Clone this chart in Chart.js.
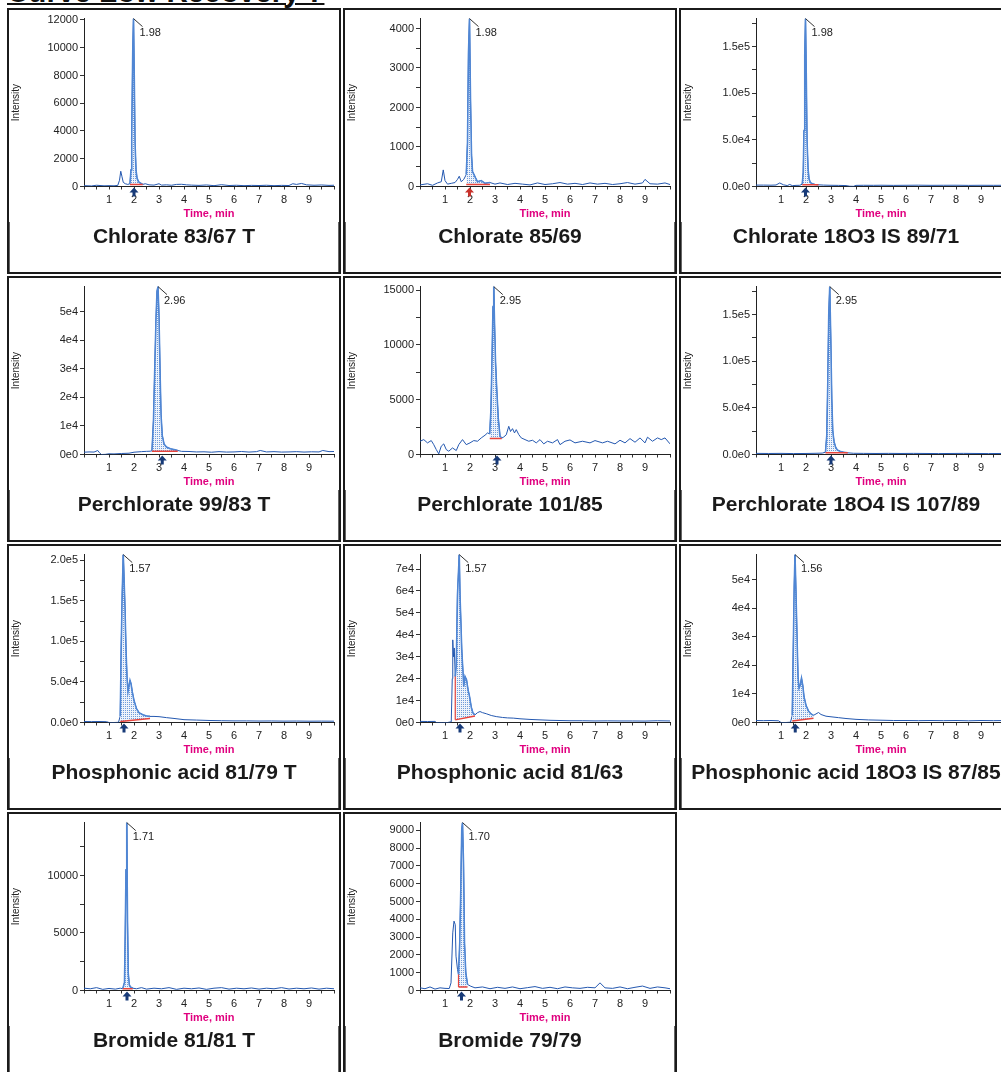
<!DOCTYPE html>
<html>
<head>
<meta charset="utf-8">
<script src="https://cdn.jsdelivr.net/npm/chart.js@4.4.1/dist/chart.umd.min.js"></script>
<style>
body{margin:0;width:1001px;height:1072px;overflow:hidden;position:relative;background:#fff;font-family:"Liberation Sans",Arial,sans-serif}
#title{position:absolute;left:7px;top:-23px;font-size:29.6px;font-weight:bold;line-height:29px;text-decoration:underline;text-decoration-thickness:2px;text-underline-offset:1px;white-space:nowrap;color:#111}
.panel{position:absolute;width:330px;height:262px;border:2px solid #1b1b1b;background:#fff}
.panel canvas{position:absolute;left:0;top:0}
.cap{position:absolute;left:0;right:0;top:212px;bottom:0;border-left:1px solid #666;border-right:1px solid #666;text-align:center;font-weight:bold;font-size:21px;line-height:28px;color:#1a1a1a;white-space:nowrap}
</style>
</head>
<body>
<div id="title">Curve Low Recovery 7</div>
<script>
// panel captions and peak annotations
var captions = ['Chlorate 83/67 T', 'Chlorate 85/69', 'Chlorate 18O3 IS 89/71',
    'Perchlorate 99/83 T', 'Perchlorate 101/85', 'Perchlorate 18O4 IS 107/89',
    'Phosphonic acid 81/79 T', 'Phosphonic acid 81/63', 'Phosphonic acid 18O3 IS 87/85',
    'Bromide 81/81 T', 'Bromide 79/79'];
var apexLabels = ['1.98', '1.98', '1.98', '2.96', '2.95', '2.95', '1.57', '1.57', '1.56', '1.71', '1.70'];
var rtMarks = [2.0, 1.98, 1.98, 3.13, 3.08, 3.0, 1.6, 1.6, 1.57, 1.72, 1.66];

// integration window and its baseline
var intStart = [1.84, 1.85, 1.85, 2.72, 2.79, 2.78, 1.45, 1.41, 1.45, 1.55, 1.54];
var intEnd = [2.35, 2.8, 2.5, 3.75, 3.27, 3.67, 2.64, 2.2, 2.3, 1.95, 1.9];
var baseStart = [150, 50, 2000, 1100, 1450, 2000, 1200, 1200, 500, 150, 200];
var baseEnd = [150, 50, 1800, 1100, 1450, 1800, 5000, 3000, 1500, 150, 200];
var edgeTop = [null, null, null, null, null, null, null, 21000, null, null, 900];

// y axis tick labels
var yStep = [2000, 1000, 50000, 10000, 5000, 50000, 50000, 10000, 10000, 5000, 1000];
var yFormat = ['int', 'int', 'e1', 'e0', 'int', 'e1', 'e1', 'e0', 'e0', 'int', 'int'];
var xLabels = [1, 2, 3, 4, 5, 6, 7, 8, 9];

// chromatograms: time (min) / intensity
var t1 = [0,0.3,0.5,0.8,1.0,1.2,1.35,1.42,1.47,1.52,1.57,1.65,1.75,1.84,1.88,1.91,1.95,1.98,2.01,2.04,2.08,2.12,2.18,2.25,2.35,2.45,2.6,2.8,3.0,3.1,3.3,3.5,3.7,3.9,4.1,4.3,4.6,4.9,5.2,5.5,5.8,6.1,6.4,6.7,7.0,7.3,7.6,7.9,8.2,8.35,8.5,8.7,8.9,9.2,9.5,9.8,10];
var y1 = [60,40,90,50,60,50,80,450,1100,700,300,200,150,200,1200,3500,9800,12100,8000,3200,1200,600,350,250,150,200,120,100,200,100,120,90,150,160,120,100,80,110,60,130,70,90,60,80,70,90,60,80,70,200,150,220,120,90,110,80,90];
var t2 = [0,0.3,0.5,0.7,0.85,0.93,1.0,1.1,1.25,1.4,1.5,1.57,1.65,1.75,1.85,1.9,1.94,1.98,2.02,2.06,2.1,2.16,2.22,2.3,2.45,2.6,2.8,3.0,3.2,3.5,3.8,4.1,4.4,4.7,5.0,5.3,5.6,5.9,6.2,6.5,6.8,7.1,7.4,7.7,8.0,8.3,8.6,8.9,9.0,9.2,9.5,9.8,10];
var y2 = [40,70,30,90,120,420,150,60,80,100,180,260,120,180,300,1100,3400,4250,2200,800,380,300,220,120,150,80,100,60,90,50,80,60,40,90,50,70,100,60,80,50,90,60,80,50,70,100,60,90,180,70,60,90,50];
var t3 = [0,0.3,0.6,0.8,0.95,1.1,1.25,1.35,1.45,1.6,1.75,1.85,1.89,1.92,1.95,1.98,2.01,2.04,2.08,2.12,2.18,2.25,2.35,2.5,2.7,3.0,3.3,3.6,3.75,3.9,4.0,4.3,4.7,5.0,5.5,6.0,6.5,7.0,7.5,8.0,8.5,9.0,9.5,10];
var y3 = [1500,1500,1400,1600,3800,1800,1000,2200,900,1200,1300,2500,15000,60000,141000,180000,121000,50000,20000,8000,4000,3000,2200,1800,1500,1300,1200,1000,300,200,1200,1300,1250,1350,1200,1300,1400,1250,1300,1350,1200,1300,1250,1300];
var t4 = [0,0.2,0.4,0.55,0.62,0.7,0.85,1.0,1.2,1.5,1.8,2.0,2.3,2.5,2.65,2.72,2.78,2.83,2.88,2.92,2.96,3.0,3.04,3.08,3.13,3.2,3.3,3.45,3.6,3.75,3.9,4.2,4.5,4.8,5.1,5.4,5.7,6.0,6.3,6.6,6.9,7.05,7.3,7.6,7.9,8.2,8.5,8.8,9.1,9.4,9.55,9.8,10];
var y4 = [800,900,850,1400,600,0,50,250,200,350,450,800,1000,1100,1150,1300,12000,30000,47000,57000,58700,48000,30000,14000,6600,3700,2600,2000,1700,1400,1100,1050,900,950,800,1000,850,900,1050,850,1000,1400,900,1000,850,900,1000,850,950,900,1400,1000,1050];
var t5 = [0,0.15,0.3,0.45,0.55,0.65,0.75,0.85,0.95,1.05,1.15,1.3,1.45,1.55,1.7,1.85,2.0,2.15,2.3,2.45,2.6,2.7,2.79,2.84,2.88,2.92,2.95,2.98,3.02,3.07,3.13,3.2,3.27,3.35,3.45,3.55,3.62,3.7,3.78,3.85,3.95,4.05,4.2,4.35,4.5,4.65,4.8,4.95,5.1,5.3,5.5,5.6,5.8,6.0,6.2,6.5,6.8,7.0,7.3,7.5,7.8,8.0,8.2,8.4,8.6,8.8,9.0,9.1,9.3,9.5,9.65,9.8,10];
var y5 = [1210,1360,1060,1270,900,450,60,760,970,450,300,600,360,900,1360,900,1060,1270,1210,1515,1760,1970,1880,4240,8500,13500,15330,12000,8500,5900,3300,1670,1500,1600,1800,2575,2100,2360,1970,2270,1820,1515,1360,1210,1300,1060,1360,970,1210,1060,1360,900,1210,1330,1060,1210,1060,1270,1060,1210,970,1300,1060,1450,1120,1515,1060,1580,1210,1515,1360,1515,970];
var t6 = [0,0.5,1.0,1.5,2.0,2.4,2.65,2.78,2.83,2.87,2.91,2.95,2.99,3.03,3.07,3.12,3.18,3.25,3.35,3.5,3.67,3.9,4.3,4.8,5.3,5.8,6.3,6.8,7.3,7.8,8.3,8.8,9.3,9.8,10];
var y6 = [1200,1100,1200,1000,1100,1300,1500,2500,20000,75000,150000,180000,125000,60000,25000,14000,8000,5000,3500,2500,1800,1300,1200,1100,1200,1100,1200,1100,1000,1100,1200,1100,1000,1100,1100];
var t7 = [0,0.3,0.6,0.9,1.0,1.2,1.38,1.45,1.49,1.53,1.57,1.6,1.64,1.68,1.72,1.76,1.8,1.84,1.88,1.93,2.0,2.1,2.2,2.35,2.5,2.64,2.8,3.0,3.3,3.6,4.0,4.5,5.0,5.5,6.0,6.5,7.0,7.5,8.0,8.5,9.0,9.5,10];
var y7 = [1200,1100,1200,1000,0,0,200,8000,95000,160000,207000,180000,140000,90000,55000,38000,45000,52000,48000,38000,27000,17000,12000,9500,8000,7500,7500,7200,6000,5000,3500,3000,2500,2200,2000,2000,1800,1900,1700,1800,1600,1700,1600];
var t8 = [0,0.3,0.6,0.65,0.9,1.1,1.25,1.29,1.31,1.34,1.37,1.41,1.45,1.5,1.57,1.6,1.67,1.75,1.8,1.86,1.92,1.98,2.05,2.12,2.2,2.3,2.4,2.5,2.65,2.85,3.05,3.3,3.5,3.73,4.0,4.4,4.8,5.2,5.6,6.0,6.5,7.0,7.5,8.0,8.5,9.0,9.5,10];
var y8 = [500,450,500,0,0,0,300,20000,37700,30000,34000,21000,25600,58300,76600,58300,33000,16400,21000,19500,15000,11900,7000,4260,3500,4500,5000,4500,4000,3200,2700,2300,2100,2000,1700,1400,1200,1000,900,800,800,700,750,700,700,650,800,700];
var t9 = [0,0.3,0.6,0.9,1.0,1.2,1.38,1.45,1.49,1.53,1.56,1.6,1.64,1.68,1.72,1.77,1.82,1.87,1.92,2.0,2.1,2.2,2.3,2.4,2.5,2.6,2.8,3.0,3.3,3.6,4.0,4.5,5.0,5.5,6.0,6.5,7.0,7.5,8.0,8.5,9.0,9.5,10];
var y9 = [700,650,700,600,0,0,100,2500,25000,48000,58800,45000,30000,16000,12000,13000,15500,13000,9000,6000,4000,3000,2500,3000,3500,2800,2200,2000,1700,1400,1100,900,800,700,700,650,700,650,700,600,700,650,700];
var t10 = [0,0.25,0.5,0.75,1.0,1.25,1.45,1.55,1.62,1.65,1.68,1.71,1.74,1.77,1.81,1.86,1.95,2.1,2.3,2.5,2.8,3.1,3.4,3.7,4.0,4.3,4.6,4.9,5.2,5.5,5.8,6.1,6.4,6.7,7.0,7.3,7.6,7.9,8.2,8.5,8.8,9.1,9.4,9.7,10];
var y10 = [200,150,250,100,180,120,200,150,700,5000,10500,14600,6000,1500,500,300,200,150,250,120,200,150,250,100,200,150,220,100,200,250,120,200,150,220,120,200,150,250,130,200,150,220,120,200,150];
var t11 = [0,0.2,0.4,0.6,0.8,1.0,1.17,1.24,1.31,1.36,1.41,1.44,1.5,1.54,1.59,1.63,1.67,1.7,1.74,1.78,1.83,1.9,2.03,2.2,2.5,2.8,3.1,3.4,3.7,4.0,4.3,4.6,4.9,5.2,5.5,5.8,6.1,6.4,6.7,7.0,7.2,7.4,7.7,8.0,8.3,8.6,8.9,9.2,9.5,9.8,10];
var y11 = [150,100,200,80,150,120,110,430,3240,3900,3700,1930,1180,900,2670,5570,9030,9440,7160,2670,1000,340,240,150,200,100,180,120,200,100,160,220,120,180,100,200,150,120,180,150,430,150,120,200,100,180,250,120,200,150,100];

var times = [t1, t2, t3, t4, t5, t6, t7, t8, t9, t10, t11];
var intensities = [y1, y2, y3, y4, y5, y6, y7, y8, y9, y10, y11];

Chart.defaults.font.family = '"Liberation Sans", Arial, sans-serif';
Chart.defaults.color = '#222';

function fmt(v, mode) {
    if (mode === 'int') return String(v);
    var d = mode === 'e1' ? 1 : 0;
    if (v === 0) return (0).toFixed(d) + 'e0';
    var e = Math.floor(Math.log10(v) + 1e-9);
    return (v / Math.pow(10, e)).toFixed(d) + 'e' + e;
}

// dotted fill of the integrated area
function dotPattern() {
    var tile = document.createElement('canvas');
    tile.width = 2; tile.height = 2;
    var c = tile.getContext('2d');
    c.fillStyle = '#eef3fb';
    c.fillRect(0, 0, 2, 2);
    c.fillStyle = '#6f9bd9';
    c.fillRect(0, 0, 1, 1);
    return c.createPattern(tile, 'repeat');
}

// apex flag + retention time arrow
var peakMarks = {
    id: 'peakMarks',
    afterDraw: function (chart, args, o) {
        var ctx = chart.ctx, x = chart.scales.x, y = chart.scales.y;
        var px = x.getPixelForValue(o.apexT), py = y.getPixelForValue(o.apexY);
        ctx.save();
        ctx.strokeStyle = '#333';
        ctx.lineWidth = 1;
        ctx.beginPath();
        ctx.moveTo(px, py);
        ctx.lineTo(px + 9, py + 8);
        ctx.stroke();
        ctx.fillStyle = '#222';
        ctx.font = '11px "Liberation Sans", Arial';
        ctx.textBaseline = 'middle';
        ctx.fillText(o.label, px + 6, py + 14);
        var ax = x.getPixelForValue(o.rt), b = chart.chartArea.bottom;
        ctx.fillStyle = o.arrowColor;
        ctx.beginPath();
        ctx.moveTo(ax, b + 1);
        ctx.lineTo(ax + 4.5, b + 6);
        ctx.lineTo(ax + 1.5, b + 6);
        ctx.lineTo(ax + 1.5, b + 10);
        ctx.lineTo(ax - 1.5, b + 10);
        ctx.lineTo(ax - 1.5, b + 6);
        ctx.lineTo(ax - 4.5, b + 6);
        ctx.closePath();
        ctx.fill();
        ctx.restore();
    }
};

captions.forEach(function (caption, i) {
    var col = i % 3, row = Math.floor(i / 3);
    var panel = document.createElement('div');
    panel.className = 'panel';
    panel.style.left = (7 + 336 * col) + 'px';
    panel.style.top = (8 + 268 * row) + 'px';
    var canvas = document.createElement('canvas');
    canvas.width = 330; canvas.height = 214;
    canvas.style.width = '330px'; canvas.style.height = '214px';
    panel.appendChild(canvas);
    var cap = document.createElement('div');
    cap.className = 'cap';
    cap.textContent = caption;
    panel.appendChild(cap);
    document.body.appendChild(panel);

    var ts = times[i], vs = intensities[i];
    var trace = ts.map(function (t, k) { return { x: t, y: vs[k] }; });
    var peak = trace.filter(function (p) { return p.x >= intStart[i] && p.x <= intEnd[i]; });
    var base = [{ x: intStart[i], y: baseStart[i] }, { x: intEnd[i], y: baseEnd[i] }];
    var edge = edgeTop[i] === null ? [] : [{ x: intStart[i], y: baseStart[i] }, { x: intStart[i], y: edgeTop[i] }];
    var ymax = Math.max.apply(null, vs);
    var apexIdx = vs.indexOf(ymax);

    var step = yStep[i];
    var yTicks = [];
    for (var v = 0; v <= ymax + 1e-6; v += step / 2) yTicks.push({ value: v });
    var xTicks = [];
    for (var k = 0; k <= 20; k++) xTicks.push({ value: k / 2 });

    new Chart(canvas, {
        type: 'line',
        data: {
            datasets: [
                { data: peak, borderColor: '#4f86d4', borderWidth: 1.6, backgroundColor: dotPattern(), fill: 2, pointRadius: 0 },
                { data: trace, borderColor: '#2458b0', borderWidth: 1, fill: false, pointRadius: 0 },
                { data: base, borderColor: '#e8443c', borderWidth: 1.5, fill: false, pointRadius: 0, order: -1 },
                { data: edge, borderColor: '#e8443c', borderWidth: 1.2, fill: false, pointRadius: 0, order: -1 }
            ]
        },
        options: {
            responsive: false,
            animation: false,
            layout: { padding: { left: 0, right: 5, top: 8, bottom: 0 } },
            plugins: {
                legend: { display: false },
                tooltip: { enabled: false },
                peakMarks: {
                    apexT: ts[apexIdx], apexY: ymax, label: apexLabels[i], rt: rtMarks[i],
                    arrowColor: i === 1 ? '#c8322c' : '#173a78'
                }
            },
            scales: {
                x: {
                    type: 'linear', min: 0, max: 10,
                    afterFit: function (s) { s.height = 37.5; },
                    afterBuildTicks: function (s) { s.ticks = xTicks; },
                    ticks: {
                        autoSkip: false, maxRotation: 0, minRotation: 0, padding: 4,
                        font: { size: 11 }, color: '#222',
                        callback: function (val) { return xLabels.indexOf(val) >= 0 ? String(val) : ''; }
                    },
                    grid: { drawOnChartArea: false, tickLength: 3, color: '#333' },
                    border: { color: '#222', width: 1 },
                    title: { display: true, text: 'Time, min', color: '#e0007f', font: { size: 11, weight: 'bold' }, padding: { top: 0, bottom: 3 } }
                },
                y: {
                    min: 0, max: ymax,
                    afterFit: function (s) { s.width = 75; },
                    afterBuildTicks: function (s) { s.ticks = yTicks; },
                    ticks: {
                        padding: 2, font: { size: 11 }, color: '#222',
                        callback: function (val) { return Math.abs(val / step - Math.round(val / step)) < 1e-6 ? fmt(val, yFormat[i]) : ''; }
                    },
                    grid: { drawOnChartArea: false, tickLength: 4, color: '#333' },
                    border: { color: '#222', width: 1 },
                    title: { display: true, text: 'Intensity', color: '#222', font: { size: 10 }, padding: { top: 1, bottom: 0 } }
                }
            }
        },
        plugins: [peakMarks]
    });
});
</script>
</body>
</html>
